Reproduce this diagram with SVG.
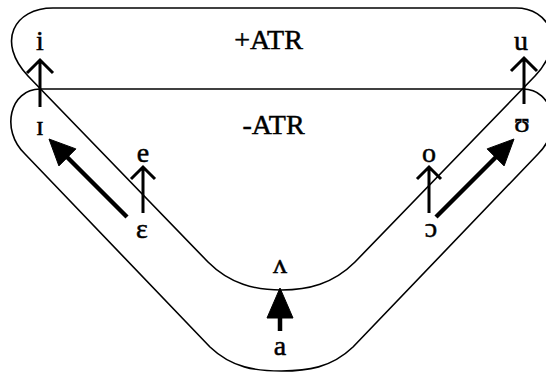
<svg xmlns="http://www.w3.org/2000/svg" width="546" height="374" viewBox="0 0 546 374">
<style>
.ln{fill:none;stroke:#000;stroke-width:1.6;stroke-linejoin:round}
.t{font-family:"Liberation Serif","DejaVu Serif",serif;font-size:28px;fill:#000;stroke:#000;stroke-width:0.5;text-anchor:middle}
.sa{fill:none;stroke:#000;stroke-width:3;stroke-linecap:butt}
.ba{stroke:#000;stroke-width:4.5;fill:none}
.hd{fill:#000;stroke:#000;stroke-width:1;stroke-linejoin:round}
</style>
<rect width="546" height="374" fill="#fff"/>
<g id="plusATR">
<path class="ln" d="M53,8 L516,8"/>
<path class="ln" d="M53,8 C14,8 -4,42 28,76 L208,262 C230,284 255,290 281.5,290 C308,290 333,284 355,262 L535,76 C567,42 549,8 516,8"/>
<text class="t" x="268.5" y="49">+ATR</text>
</g>
<g id="minusATR">
<path class="ln" d="M40,89 L523,89"/>
<path class="ln" d="M40,89 C10,89 0,130 25,154 L210,347 C232,368 256,371 281.5,371 C307,371 331,368 353,347 L538,154 C563,130 553,89 523,89"/>
<text class="t" x="273.5" y="134">-ATR</text>
</g>
<g id="v-i"><text class="t" x="40" y="50">i</text></g>
<g id="v-u"><text class="t" x="521" y="50">u</text></g>
<g id="v-I"><text class="t" x="40" y="135">ɪ</text></g>
<g id="v-U"><text class="t" x="522" y="132">ʊ</text></g>
<g id="v-e"><text class="t" x="143" y="162">e</text></g>
<g id="v-o"><text class="t" x="429" y="162">o</text></g>
<g id="v-E"><text class="t" x="142" y="238">ɛ</text></g>
<g id="v-O"><text class="t" x="431" y="237">ɔ</text></g>
<g id="v-V"><text class="t" x="280" y="273">ʌ</text></g>
<g id="v-a"><text class="t" x="280" y="355">a</text></g>
<g id="connectors">
<path class="sa" d="M40,107 L40,61 M27,73 L40,60 L53,73"/>
<path class="sa" d="M524,104 L524,59 M511,71 L524,58 L537,71"/>
<path class="sa" d="M143,213 L143,168 M131,179 L143,167 L155,179"/>
<path class="sa" d="M429,213 L429,168 M417,179 L429,167 L441,179"/>
<line class="ba" x1="127" y1="217" x2="66" y2="156"/>
<polygon class="hd" points="49,139 75.9,148.9 58.9,165.9"/>
<line class="ba" x1="436" y1="217" x2="497" y2="156"/>
<polygon class="hd" points="514,139 487.1,148.9 504.1,165.9"/>
<line class="ba" x1="280" y1="331" x2="280" y2="314"/>
<polygon class="hd" points="280,288 267,318 293,318"/>
</g>
</svg>
